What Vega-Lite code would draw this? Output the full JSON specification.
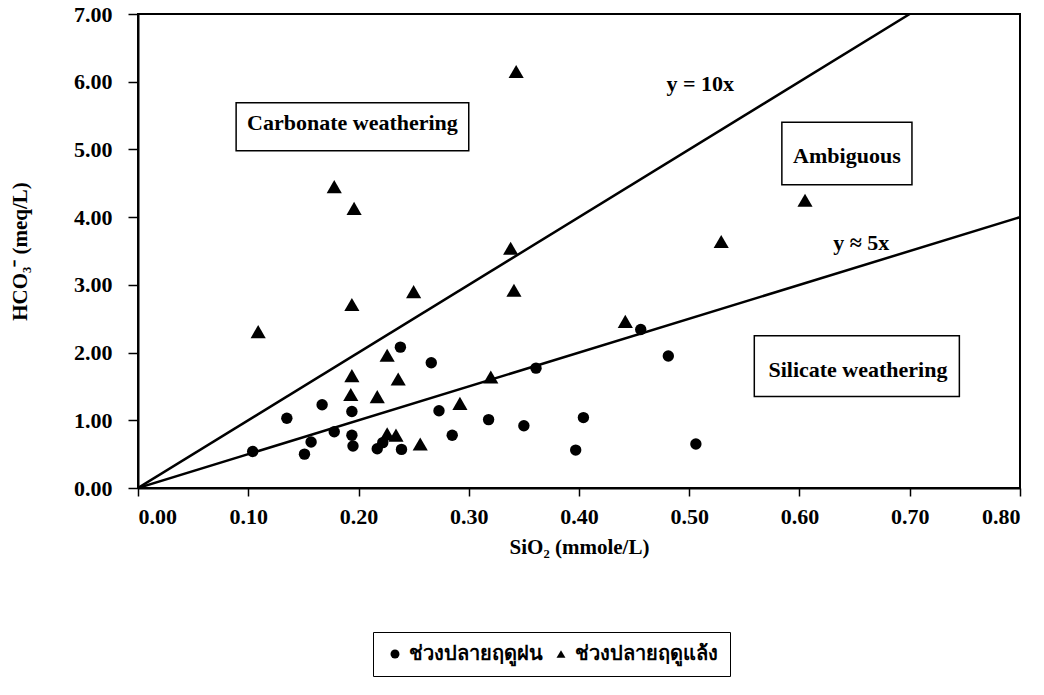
{
  "$schema": "https://vega.github.io/schema/vega-lite/v6.json",
  "width": 882,
  "height": 474,
  "autosize": {"type": "none"},
  "padding": {"left": 138, "top": 14, "right": 24, "bottom": 207},
  "background": "white",
  "config": {
    "view": {"stroke": "black", "strokeWidth": 2},
    "font": "Liberation Serif"
  },
  "datasets": {
    "points": [
      {"sio2": 0.104, "hco3": 0.54, "season": "ช่วงปลายฤดูฝน"},
      {"sio2": 0.135, "hco3": 1.03, "season": "ช่วงปลายฤดูฝน"},
      {"sio2": 0.151, "hco3": 0.50, "season": "ช่วงปลายฤดูฝน"},
      {"sio2": 0.157, "hco3": 0.68, "season": "ช่วงปลายฤดูฝน"},
      {"sio2": 0.167, "hco3": 1.23, "season": "ช่วงปลายฤดูฝน"},
      {"sio2": 0.178, "hco3": 0.83, "season": "ช่วงปลายฤดูฝน"},
      {"sio2": 0.194, "hco3": 0.78, "season": "ช่วงปลายฤดูฝน"},
      {"sio2": 0.195, "hco3": 0.62, "season": "ช่วงปลายฤดูฝน"},
      {"sio2": 0.194, "hco3": 1.13, "season": "ช่วงปลายฤดูฝน"},
      {"sio2": 0.217, "hco3": 0.58, "season": "ช่วงปลายฤดูฝน"},
      {"sio2": 0.222, "hco3": 0.67, "season": "ช่วงปลายฤดูฝน"},
      {"sio2": 0.239, "hco3": 0.57, "season": "ช่วงปลายฤดูฝน"},
      {"sio2": 0.238, "hco3": 2.08, "season": "ช่วงปลายฤดูฝน"},
      {"sio2": 0.266, "hco3": 1.85, "season": "ช่วงปลายฤดูฝน"},
      {"sio2": 0.273, "hco3": 1.14, "season": "ช่วงปลายฤดูฝน"},
      {"sio2": 0.285, "hco3": 0.78, "season": "ช่วงปลายฤดูฝน"},
      {"sio2": 0.318, "hco3": 1.01, "season": "ช่วงปลายฤดูฝน"},
      {"sio2": 0.350, "hco3": 0.92, "season": "ช่วงปลายฤดูฝน"},
      {"sio2": 0.361, "hco3": 1.77, "season": "ช่วงปลายฤดูฝน"},
      {"sio2": 0.397, "hco3": 0.56, "season": "ช่วงปลายฤดูฝน"},
      {"sio2": 0.404, "hco3": 1.04, "season": "ช่วงปลายฤดูฝน"},
      {"sio2": 0.456, "hco3": 2.34, "season": "ช่วงปลายฤดูฝน"},
      {"sio2": 0.481, "hco3": 1.95, "season": "ช่วงปลายฤดูฝน"},
      {"sio2": 0.506, "hco3": 0.65, "season": "ช่วงปลายฤดูฝน"},
      {"sio2": 0.109, "hco3": 2.31, "season": "ช่วงปลายฤดูแล้ง"},
      {"sio2": 0.178, "hco3": 4.45, "season": "ช่วงปลายฤดูแล้ง"},
      {"sio2": 0.196, "hco3": 4.13, "season": "ช่วงปลายฤดูแล้ง"},
      {"sio2": 0.194, "hco3": 2.71, "season": "ช่วงปลายฤดูแล้ง"},
      {"sio2": 0.250, "hco3": 2.90, "season": "ช่วงปลายฤดูแล้ง"},
      {"sio2": 0.343, "hco3": 6.15, "season": "ช่วงปลายฤดูแล้ง"},
      {"sio2": 0.338, "hco3": 3.54, "season": "ช่วงปลายฤดูแล้ง"},
      {"sio2": 0.341, "hco3": 2.92, "season": "ช่วงปลายฤดูแล้ง"},
      {"sio2": 0.226, "hco3": 1.96, "season": "ช่วงปลายฤดูแล้ง"},
      {"sio2": 0.194, "hco3": 1.66, "season": "ช่วงปลายฤดูแล้ง"},
      {"sio2": 0.236, "hco3": 1.61, "season": "ช่วงปลายฤดูแล้ง"},
      {"sio2": 0.320, "hco3": 1.64, "season": "ช่วงปลายฤดูแล้ง"},
      {"sio2": 0.193, "hco3": 1.38, "season": "ช่วงปลายฤดูแล้ง"},
      {"sio2": 0.217, "hco3": 1.35, "season": "ช่วงปลายฤดูแล้ง"},
      {"sio2": 0.292, "hco3": 1.25, "season": "ช่วงปลายฤดูแล้ง"},
      {"sio2": 0.226, "hco3": 0.80, "season": "ช่วงปลายฤดูแล้ง"},
      {"sio2": 0.234, "hco3": 0.78, "season": "ช่วงปลายฤดูแล้ง"},
      {"sio2": 0.256, "hco3": 0.65, "season": "ช่วงปลายฤดูแล้ง"},
      {"sio2": 0.442, "hco3": 2.46, "season": "ช่วงปลายฤดูแล้ง"},
      {"sio2": 0.529, "hco3": 3.64, "season": "ช่วงปลายฤดูแล้ง"},
      {"sio2": 0.605, "hco3": 4.25, "season": "ช่วงปลายฤดูแล้ง"}
    ],
    "lines": [
      {"line": "y = 10x", "sio2": 0, "hco3": 0},
      {"line": "y = 10x", "sio2": 0.7, "hco3": 7},
      {"line": "y = 5x", "sio2": 0, "hco3": 0},
      {"line": "y = 5x", "sio2": 0.8, "hco3": 4}
    ],
    "boxes": [
      {"label": "Carbonate weathering", "x1": 0.089, "x2": 0.300, "y1": 4.98, "y2": 5.69, "tx": 0.1945, "ty": 5.29},
      {"label": "Ambiguous", "x1": 0.584, "x2": 0.702, "y1": 4.48, "y2": 5.40, "tx": 0.643, "ty": 4.80},
      {"label": "Silicate weathering", "x1": 0.559, "x2": 0.745, "y1": 1.35, "y2": 2.25, "tx": 0.653, "ty": 1.64}
    ],
    "eqs": [
      {"label": "y = 10x", "tx": 0.51, "ty": 5.86},
      {"label": "y ≈ 5x", "tx": 0.656, "ty": 3.52}
    ]
  },
  "layer": [
    {
      "data": {"name": "boxes"},
      "mark": {"type": "rect", "fill": "white", "stroke": "black", "strokeWidth": 1.5},
      "encoding": {
        "x": {"field": "x1", "type": "quantitative", "scale": {"domain": [0, 0.8], "nice": false}},
        "x2": {"field": "x2"},
        "y": {"field": "y1", "type": "quantitative", "scale": {"domain": [0, 7], "nice": false}},
        "y2": {"field": "y2"}
      }
    },
    {
      "data": {"name": "boxes"},
      "mark": {"type": "text", "font": "Liberation Serif", "fontWeight": "bold", "fontSize": 22, "align": "center", "baseline": "alphabetic", "color": "black"},
      "encoding": {
        "x": {"field": "tx", "type": "quantitative"},
        "y": {"field": "ty", "type": "quantitative"},
        "text": {"field": "label"}
      }
    },
    {
      "data": {"name": "lines"},
      "mark": {"type": "line", "color": "black", "strokeWidth": 2.5, "clip": true},
      "encoding": {
        "x": {"field": "sio2", "type": "quantitative"},
        "y": {"field": "hco3", "type": "quantitative"},
        "detail": {"field": "line"}
      }
    },
    {
      "data": {"name": "points"},
      "transform": [{"filter": "datum.season === 'ช่วงปลายฤดูฝน'"}],
      "mark": {"type": "point", "filled": true, "opacity": 1, "color": "black", "size": 130},
      "encoding": {
        "x": {"field": "sio2", "type": "quantitative"},
        "y": {"field": "hco3", "type": "quantitative"},
        "shape": {
          "field": "season", "type": "nominal",
          "scale": {"domain": ["ช่วงปลายฤดูฝน", "ช่วงปลายฤดูแล้ง"], "range": ["circle", "triangle-up"]}
        }
      }
    },
    {
      "data": {"name": "points"},
      "transform": [{"filter": "datum.season === 'ช่วงปลายฤดูแล้ง'"}],
      "mark": {"type": "point", "filled": true, "opacity": 1, "color": "black", "size": 230},
      "encoding": {
        "x": {
          "field": "sio2", "type": "quantitative",
          "scale": {"domain": [0, 0.8], "nice": false},
          "axis": {"grid": false, "values": [0, 0.1, 0.2, 0.3, 0.4, 0.5, 0.6, 0.7, 0.8], "format": ".2f", "tickSize": 8, "labelPadding": 10,
            "domainColor": "black", "domainWidth": 2, "tickColor": "black", "tickWidth": 1.5,
            "labelFont": "Liberation Serif", "labelFontWeight": "bold", "labelFontSize": 22, "labelColor": "black",
            "title": "SiO₂ (mmole/L)", "titlePadding": 9, "titleFont": "Liberation Serif", "titleFontWeight": "bold", "titleFontSize": 21, "titleColor": "black"}
        },
        "y": {
          "field": "hco3", "type": "quantitative",
          "scale": {"domain": [0, 7], "nice": false},
          "axis": {"grid": false, "values": [0, 1, 2, 3, 4, 5, 6, 7], "format": ".2f", "tickSize": 10, "labelPadding": 16,
            "domainColor": "black", "domainWidth": 2, "tickColor": "black", "tickWidth": 1.5,
            "labelFont": "Liberation Serif", "labelFontWeight": "bold", "labelFontSize": 22, "labelColor": "black",
            "title": "HCO₃⁻ (meq/L)", "titleX": -118, "titleBaseline": "middle", "titleFont": "Liberation Serif", "titleFontWeight": "bold", "titleFontSize": 21, "titleColor": "black"}
        },
        "shape": {
          "field": "season", "type": "nominal",
          "scale": {"domain": ["ช่วงปลายฤดูฝน", "ช่วงปลายฤดูแล้ง"], "range": ["circle", "triangle-up"]},
          "legend": {
            "title": null, "orient": "none", "direction": "horizontal",
            "legendX": 235, "legendY": 618,
            "strokeColor": "black", "padding": 12,
            "labelFontSize": 20, "labelFont": "Liberation Serif", "labelFontWeight": "bold", "labelColor": "black",
            "symbolFillColor": "black", "symbolStrokeColor": "black", "symbolSize": 80,
            "columnPadding": 8
          }
        }
      }
    },
    {
      "data": {"name": "eqs"},
      "mark": {"type": "text", "font": "Liberation Serif", "fontWeight": "bold", "fontSize": 22, "align": "center", "baseline": "alphabetic", "color": "black"},
      "encoding": {
        "x": {"field": "tx", "type": "quantitative"},
        "y": {"field": "ty", "type": "quantitative"},
        "text": {"field": "label"}
      }
    }
  ]
}
